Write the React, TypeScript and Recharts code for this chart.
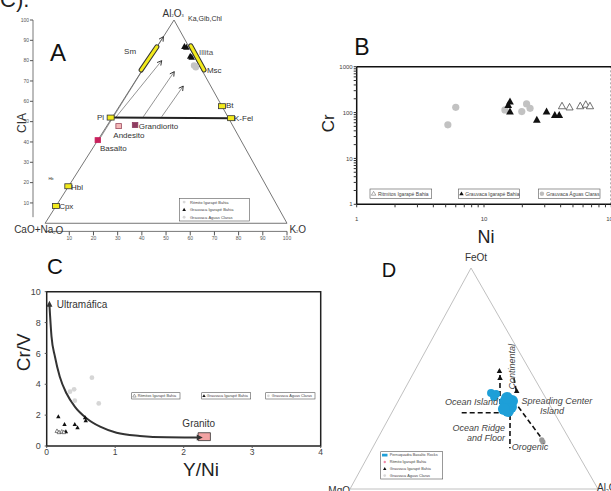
import React from 'react';
import { ComposedChart, Scatter, Line, XAxis, YAxis, ReferenceLine, ReferenceDot, ReferenceArea } from 'recharts';

const FONTE = '"Liberation Sans", Arial, Helvetica, sans-serif';

// ---------- A: diagrama A-CN-K (eixo inferior 0-100 x CIA) ----------
const verticesA = [{ x: 0, y: 0 }, { x: 53.3, y: 100 }, { x: 100, y: 0 }];
const ticksA = [10, 20, 30, 40, 50, 60, 70, 80, 90, 100];
const mineraisA = [
  { nome: 'Pl', x: 27.1, y: 52 },
  { nome: 'K-Fel', x: 76.9, y: 51.7 },
  { nome: 'Bt', x: 73.1, y: 57.6 },
  { nome: 'Hbl', x: 9.6, y: 18.2 },
  { nome: 'Cpx', x: 4.5, y: 8.5 },
];
const faixasA = [
  { nome: 'Sm', de: { x: 39.7, y: 75.4 }, ate: { x: 46.2, y: 86.8 } },
  { nome: 'Illita-Msc', de: { x: 60.2, y: 87.3 }, ate: { x: 65.7, y: 75.4 } },
];
const rochasA = [
  { nome: 'Basalto', x: 21.8, y: 40.9 },
  { nome: 'Andesito', x: 30.4, y: 47.8 },
  { nome: 'Grandiorito', x: 37.2, y: 48.3 },
];
const tendenciasA = [
  { de: { x: 22.7, y: 41.8 }, ate: { x: 48.9, y: 91.8 } },
  { de: { x: 29.3, y: 52.2 }, ate: { x: 48.2, y: 80.0 } },
  { de: { x: 40.6, y: 52.4 }, ate: { x: 53.4, y: 74.6 } },
  { de: { x: 48.2, y: 52.4 }, ate: { x: 57.1, y: 67.5 } },
];
const grauvacaIgarapeA = [
  { x: 57.6, y: 86.9 }, { x: 58.4, y: 86.6 }, { x: 60.0, y: 82.1 }, { x: 60.6, y: 81.6 },
];
const grauvacaAguasA = [{ x: 61.6, y: 77.6 }, { x: 62.3, y: 76.8 }];

// ---------- B: Cr x Ni (log-log) ----------
const ticksLogX = [1, 2, 3, 4, 5, 6, 7, 8, 9, 10, 20, 30, 40, 50, 60, 70, 80, 90, 100];
const ticksLogY = [1, 2, 3, 4, 5, 6, 7, 8, 9, 10, 20, 30, 40, 50, 60, 70, 80, 90, 100, 200, 300, 400, 500, 600, 700, 800, 900, 1000];
const decadas = [1, 10, 100, 1000];
const aguasClarasB = [
  { x: 5.2, y: 54 }, { x: 6.0, y: 130 }, { x: 14.6, y: 114 }, { x: 19.8, y: 105 }, { x: 21.6, y: 154 }, { x: 23, y: 124 },
];
const igarapeB = [
  { x: 16, y: 172 }, { x: 15.5, y: 145 }, { x: 16, y: 104 }, { x: 26, y: 69 }, { x: 31, y: 104 }, { x: 36, y: 88 }, { x: 39, y: 88 },
];
const ritmitosB = [
  { x: 41, y: 138 }, { x: 47, y: 130 }, { x: 57, y: 138 }, { x: 63, y: 149 }, { x: 68, y: 138 },
];

// ---------- C: Cr/V x Y/Ni ----------
const ticksCx = [0, 1, 2, 3, 4];
const ticksCy = [0, 2, 4, 6, 8, 10];
const curvaC = [
  { x: 0.04, y: 9.15 }, { x: 0.05, y: 8.4 }, { x: 0.07, y: 7.1 }, { x: 0.12, y: 5.8 }, { x: 0.19, y: 4.5 },
  { x: 0.29, y: 3.4 }, { x: 0.41, y: 2.55 }, { x: 0.58, y: 1.8 }, { x: 0.78, y: 1.25 }, { x: 1.02, y: 0.86 },
  { x: 1.36, y: 0.65 }, { x: 1.75, y: 0.56 }, { x: 2.22, y: 0.55 },
];
const granitoC = { x1: 2.21, x2: 2.39, y1: 0.35, y2: 0.86 };
const aguasClarasC = [
  { x: 0.34, y: 3.52 }, { x: 0.40, y: 3.67 }, { x: 0.41, y: 2.94 }, { x: 0.66, y: 4.43 }, { x: 0.76, y: 2.76 },
];
const igarapeC = [
  { x: 0.17, y: 1.9 }, { x: 0.26, y: 1.4 }, { x: 0.41, y: 1.4 }, { x: 0.45, y: 1.19 }, { x: 0.56, y: 1.84 }, { x: 0.57, y: 1.64 }, { x: 0.28, y: 0.93 },
];
const ritmitosC = [{ x: 0.15, y: 0.97 }, { x: 0.18, y: 0.89 }, { x: 0.22, y: 0.93 }, { x: 0.25, y: 0.89 }];

// ---------- D: FeOt - MgO - Al2O3, valores [FeOt, MgO, Al2O3] ----------
const APICE_D = 48.8;
const ternario = ([fe, mg, al]: number[]) => {
  const s = fe + mg + al;
  return { x: ((al + (fe * APICE_D) / 100) / s) * 100, y: (fe / s) * 100 };
};
const verticesD = [[0, 100, 0], [100, 0, 0], [0, 0, 100]];
const camposD = [
  [[34.5, 37.3, 28.2], [34.5, 20.5, 45.0]],
  [[51.6, 13.1, 35.3], [35.0, 21.6, 43.4]],
  [[33.5, 18.3, 48.2], [18.4, 26.1, 55.5]],
  [[37.2, 13.1, 49.7], [22.9, 11.0, 66.1]],
  [[50.2, 8.2, 41.6], [43.3, 10.6, 46.1]],
];
const basaltosD = [
  [39.4, 17.3, 43.3], [37.1, 16.1, 46.8], [35.3, 18.2, 46.5], [39.8, 14.3, 45.9], [36.2, 19.4, 44.4], [41.2, 15.6, 43.2],
];
const basaltosMenoresD = [[43.4, 20.9, 35.7], [43.0, 19.1, 37.9], [41.6, 20.6, 37.8]];
const igarapeD = [[53.4, 12.4, 34.2], [50.2, 13.8, 36.0], [44.3, 10.1, 45.6]];
const aguasClarasD = [[22.2, 11.3, 66.5], [21.3, 11.3, 67.4]];

// ---------- formas ----------
const tri = (h: number, fill: string, stroke = 'none', sw = 0) => (p: any) => (
  <path
    d={`M${p.cx},${p.cy - h * 0.6}L${p.cx + h * 0.55},${p.cy + h * 0.4}L${p.cx - h * 0.55},${p.cy + h * 0.4}Z`}
    fill={fill}
    stroke={stroke}
    strokeWidth={sw}
  />
);
const bola = (r: number, fill: string) => (p: any) => <circle cx={p.cx} cy={p.cy} r={r} fill={fill} />;
const caixa = (w: number, h: number, fill: string, stroke: string, sw = 0.8) => (p: any) => (
  <rect x={p.cx - w / 2} y={p.cy - h / 2} width={w} height={h} fill={fill} stroke={stroke} strokeWidth={sw} />
);
const corRocha: Record<string, string> = { Basalto: '#c8215c', Andesito: '#f4b9b9', Grandiorito: '#8e3c60' };

const Seta = (p: any) => {
  const { x1, y1, x2, y2 } = p;
  const a = Math.atan2(y2 - y1, x2 - x1);
  const L = 5;
  const h1 = `${x2 - L * Math.cos(a - 0.5)},${y2 - L * Math.sin(a - 0.5)}`;
  const h2 = `${x2 - L * Math.cos(a + 0.5)},${y2 - L * Math.sin(a + 0.5)}`;
  return (
    <g>
      <line x1={x1} y1={y1} x2={x2} y2={y2} stroke="#666" strokeWidth={0.7} />
      <path d={`M${h1}L${x2},${y2}L${h2}`} fill="none" stroke="#222" strokeWidth={0.9} />
    </g>
  );
};

const pontaSeta = (dir: 'cima' | 'direita') => (p: any) => {
  const { cx, cy } = p;
  const d = dir === 'cima'
    ? `M${cx},${cy - 4}L${cx + 3},${cy + 2}L${cx - 3},${cy + 2}Z`
    : `M${cx + 4},${cy}L${cx - 2},${cy - 3}L${cx - 2},${cy + 3}Z`;
  return <path d={d} fill="#333" />;
};

type Opc = { fs?: number; anchor?: string; cor?: string; italic?: boolean; rot?: number };
const nota = (k: string, x: number, y: number, conteudo: React.ReactNode, o: Opc = {}) => (
  <ReferenceDot
    key={k}
    x={x}
    y={y}
    ifOverflow="visible"
    shape={(p: any) => (
      <text
        x={p.cx}
        y={p.cy}
        fontSize={o.fs ?? 8}
        textAnchor={(o.anchor ?? 'start') as any}
        dominantBaseline="central"
        fill={o.cor ?? '#333'}
        fontStyle={o.italic ? 'italic' : 'normal'}
        fontFamily={FONTE}
        transform={o.rot ? `rotate(${o.rot} ${p.cx} ${p.cy})` : undefined}
      >
        {conteudo}
      </text>
    )}
  />
);

const sub = (t: string) => <tspan fontSize={4} dy={2}>{t}</tspan>;

const PainelA = () => (
  <ComposedChart width={330} height={250} margin={{ top: 20, right: 43, bottom: 3.6, left: 13 }}>
    <XAxis type="number" dataKey="x" domain={[-5, 100]} ticks={ticksA} interval={0} allowDataOverflow axisLine={false}
      height={15} tickSize={4} tickMargin={1} tick={{ fontSize: 5, fill: '#555', fontFamily: FONTE }} tickLine={{ stroke: '#555' }} />
    <YAxis type="number" dataKey="y" domain={[-4, 100]} ticks={ticksA} interval={0} allowDataOverflow axisLine={false}
      width={20} tickSize={3} tickMargin={1} tick={{ fontSize: 5, fill: '#555', fontFamily: FONTE }} tickLine={{ stroke: '#555' }} />
    <ReferenceLine segment={[{ x: 0, y: -4 }, { x: 100, y: -4 }]} stroke="#555" strokeWidth={0.8} ifOverflow="visible" />
    <ReferenceLine segment={[{ x: -5, y: 3 }, { x: -5, y: 100 }]} stroke="#555" strokeWidth={0.8} ifOverflow="visible" />
    {verticesA.map((v, i) => (
      <ReferenceLine key={`ta${i}`} segment={[v, verticesA[(i + 1) % 3]]} stroke="#666" strokeWidth={0.9} ifOverflow="visible" />
    ))}
    {tendenciasA.map((t, i) => (
      <ReferenceLine key={`sa${i}`} segment={[t.de, t.ate]} ifOverflow="visible" shape={Seta} />
    ))}
    <ReferenceLine segment={[mineraisA[0], mineraisA[1]]} stroke="#222" strokeWidth={2} ifOverflow="visible" />
    {faixasA.map((f) => (
      <ReferenceLine key={`fb${f.nome}`} segment={[f.de, f.ate]} stroke="#333" strokeWidth={5} strokeLinecap="round" ifOverflow="visible" />
    ))}
    {faixasA.map((f) => (
      <ReferenceLine key={`fy${f.nome}`} segment={[f.de, f.ate]} stroke="#f2ea1c" strokeWidth={3} strokeLinecap="round" ifOverflow="visible" />
    ))}
    <Scatter data={mineraisA} shape={caixa(7, 5, '#f2ea1c', '#333')} isAnimationActive={false} />
    {rochasA.map((r) => (
      <Scatter key={r.nome} data={[r]} shape={caixa(5.5, 5, corRocha[r.nome], r.nome === 'Andesito' ? '#9b4a5e' : corRocha[r.nome])} isAnimationActive={false} />
    ))}
    <Scatter data={grauvacaAguasA} shape={bola(3.3, '#c4c4c4')} isAnimationActive={false} />
    <Scatter data={grauvacaIgarapeA} shape={tri(6, '#111')} isAnimationActive={false} />
    {nota('al', 52.9, 103.4, <>Al{sub('2')}<tspan dy={-2}>O</tspan>{sub('3')}</>, { fs: 10, anchor: 'middle' })}
    {nota('ka', 59.1, 100.5, 'Ka,Gib,Chl', { fs: 7 })}
    {nota('sm', 37.6, 84.7, 'Sm', { anchor: 'end' })}
    {nota('il', 63.6, 83.9, 'Illita', { cor: '#555' })}
    {nota('ms', 66.9, 75.4, 'Msc')}
    {nota('bt', 74.8, 58.0, 'Bt')}
    {nota('kf', 78.1, 51.6, 'K-Fel')}
    {nota('pl', 24.4, 52.1, 'Pl', { anchor: 'end' })}
    {nota('gr', 38.7, 47.5, 'Grandiorito')}
    {nota('an', 28.2, 43.3, 'Andesito')}
    {nota('ba', 22.7, 36.7, 'Basalto')}
    {nota('hbl', 10.7, 17.5, 'Hbl')}
    {nota('cpx', 5.8, 8.2, 'Cpx')}
    {nota('hb', 1.4, 21.8, 'Hb', { fs: 4 })}
    {nota('cn', -12.8, -3.3, <>CaO+Na{sub('2')}<tspan dy={-2}>O</tspan></>, { fs: 10 })}
    {nota('k', 101, -3, <>K{sub('2')}<tspan dy={-2}>O</tspan></>, { fs: 10 })}
  </ComposedChart>
);

const rotuloLog = (v: number) => (decadas.includes(v) ? String(v) : '');
const eixoB = { stroke: '#111', strokeWidth: 1.5 };

const PainelB = () => (
  <ComposedChart width={307} height={250} margin={{ top: 65.7, right: 5.7, bottom: 25.7, left: 16.7 }}>
    <XAxis type="number" dataKey="x" scale="log" domain={[1, 100]} ticks={ticksLogX} interval={0} tickFormatter={rotuloLog}
      allowDataOverflow height={20} tickSize={3} tickMargin={9} axisLine={eixoB} tickLine={{ stroke: '#333' }}
      tick={{ fontSize: 6, fill: '#444', fontFamily: FONTE }} />
    <XAxis xAxisId="topo" orientation="top" type="number" scale="log" domain={[1, 100]} ticks={ticksLogX} interval={0}
      allowDataOverflow height={1} tickSize={3} tick={false} axisLine={eixoB} tickLine={{ stroke: '#333' }} />
    <YAxis type="number" dataKey="y" scale="log" domain={[1, 1000]} ticks={ticksLogY} interval={0} tickFormatter={rotuloLog}
      allowDataOverflow width={30} tickSize={3} tickMargin={1} axisLine={eixoB} tickLine={{ stroke: '#333' }}
      tick={{ fontSize: 6, fill: '#444', fontFamily: FONTE }} />
    <ReferenceLine x={99} stroke="#999" strokeDasharray="2 2" ifOverflow="visible" />
    <Scatter data={aguasClarasB} shape={bola(3.6, '#c2c2c2')} isAnimationActive={false} />
    <Scatter data={igarapeB} shape={tri(7, '#111')} isAnimationActive={false} />
    <Scatter data={ritmitosB} shape={tri(6.5, '#fff', '#333', 0.7)} isAnimationActive={false} />
  </ComposedChart>
);

const PainelC = () => (
  <ComposedChart width={331} height={241} margin={{ top: 41.7, right: 10.3, bottom: 25, left: 16.7 }}>
    <XAxis type="number" dataKey="x" domain={[0, 4]} ticks={ticksCx} interval={0} allowDataOverflow axisLine={false}
      height={20} tickSize={2} tickMargin={1} tickLine={{ stroke: '#555' }} tick={{ fontSize: 8.5, fill: '#444', fontFamily: FONTE }} />
    <YAxis type="number" dataKey="y" domain={[0, 10]} ticks={ticksCy} interval={0} allowDataOverflow axisLine={false}
      width={30} tickSize={2} tickMargin={4} tickLine={{ stroke: '#555' }} tick={{ fontSize: 9, fill: '#444', fontFamily: FONTE }} />
    <ReferenceArea x1={0} x2={4} y1={0} y2={10} fill="none" fillOpacity={0} stroke="#222" strokeWidth={1.5} ifOverflow="visible" />
    <ReferenceArea {...granitoC} fill="#f2a3a3" fillOpacity={1} stroke="#333" strokeWidth={0.8} />
    <Line data={curvaC} dataKey="y" type="monotone" stroke="#333" strokeWidth={2} dot={false} isAnimationActive={false} />
    <ReferenceDot x={curvaC[0].x} y={curvaC[0].y} ifOverflow="visible" shape={pontaSeta('cima')} />
    <ReferenceDot x={curvaC[curvaC.length - 1].x} y={curvaC[curvaC.length - 1].y} ifOverflow="visible" shape={pontaSeta('direita')} />
    <Scatter data={aguasClarasC} shape={bola(2.4, '#d6d6d6')} isAnimationActive={false} />
    <Scatter data={igarapeC} shape={tri(4, '#111')} isAnimationActive={false} />
    <Scatter data={ritmitosC} shape={tri(3.5, '#fff', '#333', 0.6)} isAnimationActive={false} />
    {nota('ul', 0.146, 9.14, 'Ultramáfica', { fs: 10 })}
    {nota('gr', 2.22, 1.47, 'Granito', { fs: 10, anchor: 'middle' })}
  </ComposedChart>
);

const PainelD = () => (
  <ComposedChart width={271} height={241} margin={{ top: 18, right: 13, bottom: 2, left: 10 }}>
    <XAxis type="number" dataKey="x" domain={[0, 100]} hide allowDataOverflow />
    <YAxis type="number" dataKey="y" domain={[0, 100]} hide allowDataOverflow />
    {verticesD.map((v, i) => (
      <ReferenceLine key={`td${i}`} segment={[ternario(v), ternario(verticesD[(i + 1) % 3])]} stroke="#b0b0b0" strokeWidth={0.8} ifOverflow="visible" />
    ))}
    {camposD.map((c, i) => (
      <ReferenceLine key={`cd${i}`} segment={[ternario(c[0]), ternario(c[1])]} stroke="#111" strokeWidth={1.6} strokeDasharray="5 3" ifOverflow="visible" />
    ))}
    <Scatter data={basaltosD.map(ternario)} shape={bola(6, '#1e9fd8')} isAnimationActive={false} />
    <Scatter data={basaltosMenoresD.map(ternario)} shape={bola(4, '#1e9fd8')} isAnimationActive={false} />
    <Scatter data={igarapeD.map(ternario)} shape={tri(5, '#111')} isAnimationActive={false} />
    <Scatter data={aguasClarasD.map(ternario)} shape={bola(2.6, '#9a9a9a')} isAnimationActive={false} />
    {nota('oi', 59.7, 39.5, 'Ocean Island', { fs: 9, anchor: 'end', italic: true, cor: '#444' })}
    {nota('sc', 69.2, 39.8, 'Spreading Center', { fs: 9, italic: true, cor: '#444' })}
    {nota('is', 76.6, 35.3, 'Island', { fs: 9, italic: true, cor: '#444' })}
    {nota('or', 62.5, 27.5, 'Ocean Ridge', { fs: 9, anchor: 'end', italic: true, cor: '#444' })}
    {nota('af', 62.5, 22.9, 'and Floor', { fs: 9, anchor: 'end', italic: true, cor: '#444' })}
    {nota('og', 65.2, 18.9, 'Orogenic', { fs: 9, italic: true, cor: '#444' })}
    {nota('co', 65.2, 55.3, 'Continental', { fs: 9, anchor: 'middle', italic: true, cor: '#444', rot: -90 })}
  </ComposedChart>
);

type Item = { rotulo: string; simbolo: 'tri' | 'triAberto' | 'bola' | 'bolaClara' | 'retAzul' | 'rosa' };
const Simbolo = ({ tipo, x, y, s }: { tipo: Item['simbolo']; x: number; y: number; s: number }) => {
  if (tipo === 'tri') return <path d={`M${x},${y - s}L${x + s},${y + s * 0.7}L${x - s},${y + s * 0.7}Z`} fill="#111" />;
  if (tipo === 'triAberto') return <path d={`M${x},${y - s}L${x + s},${y + s * 0.7}L${x - s},${y + s * 0.7}Z`} fill="#fff" stroke="#333" strokeWidth={0.4} />;
  if (tipo === 'bola') return <circle cx={x} cy={y} r={s} fill="#bdbdbd" />;
  if (tipo === 'bolaClara') return <circle cx={x} cy={y} r={s * 0.8} fill="#d8d8d8" />;
  if (tipo === 'rosa') return <circle cx={x} cy={y} r={s * 0.7} fill="#f08aa8" />;
  return <rect x={x - s * 1.6} y={y - s * 0.8} width={s * 3.2} height={s * 1.6} fill="#1e9fd8" />;
};

const Legenda = ({ x, y, w, h, itens, fs, dx }: { x: number; y: number; w: number; h: number; itens: Item[]; fs: number; dx: number }) => (
  <g>
    <rect x={x} y={y} width={w} height={h} fill="#fff" stroke="#555" strokeWidth={0.6} />
    {itens.map((it, i) => {
      const cy = y + (h / itens.length) * (i + 0.5);
      return (
        <g key={it.rotulo}>
          <Simbolo tipo={it.simbolo} x={x + dx * 0.45} y={cy} s={fs * 0.45} />
          <text x={x + dx} y={cy} fontSize={fs} dominantBaseline="central" fill="#444">{it.rotulo}</text>
        </g>
      );
    })}
  </g>
);

export default function App() {
  return (
    <div style={{ position: 'absolute', left: 0, top: 0, width: 611, height: 491, overflow: 'hidden', background: '#fff', fontFamily: FONTE }}>
      <div style={{ position: 'absolute', left: 0, top: 250 }}><PainelC /></div>
      <div style={{ position: 'absolute', left: 340, top: 250 }}><PainelD /></div>
      <div style={{ position: 'absolute', left: 310, top: 0 }}><PainelB /></div>
      <div style={{ position: 'absolute', left: 0, top: 0 }}><PainelA /></div>
      <svg width={611} height={491} style={{ position: 'absolute', left: 0, top: 0, pointerEvents: 'none' }} fontFamily={FONTE}>
        <text x={0} y={6.5} fontSize={22} fill="#222">C).</text>
        <text x={58} y={52} fontSize={24} textAnchor="middle" dominantBaseline="central" fill="#111">A</text>
        <text x={21.7} y={123} fontSize={12} textAnchor="middle" dominantBaseline="central" fill="#333" transform="rotate(-90 21.7 123)">CIA</text>
        <text x={362} y={47} fontSize={23} textAnchor="middle" dominantBaseline="central" fill="#111">B</text>
        <text x={328.3} y={123.3} fontSize={17} textAnchor="middle" dominantBaseline="central" fill="#222" transform="rotate(-90 328.3 123.3)">Cr</text>
        <text x={486} y={236.5} fontSize={18} textAnchor="middle" dominantBaseline="central" fill="#222">Ni</text>
        <text x={55} y={266} fontSize={22} textAnchor="middle" dominantBaseline="central" fill="#111">C</text>
        <text x={23.3} y={352.3} fontSize={19} textAnchor="middle" dominantBaseline="central" fill="#222" transform="rotate(-90 23.3 352.3)">Cr/V</text>
        <text x={201} y={469.5} fontSize={19} textAnchor="middle" dominantBaseline="central" fill="#222">Y/Ni</text>
        <text x={389} y={270} fontSize={20} textAnchor="middle" dominantBaseline="central" fill="#111">D</text>
        <text x={476} y={257.3} fontSize={10} textAnchor="middle" dominantBaseline="central" fill="#333">FeOt</text>
        <text x={350} y={494} fontSize={10} textAnchor="end" fill="#333">MgO</text>
        <text x={597} y={490.5} fontSize={10} fill="#333">Al<tspan fontSize={5} dy={2}>2</tspan><tspan dy={-2}>O</tspan><tspan fontSize={5} dy={2}>3</tspan></text>

        <Legenda x={179.3} y={198.3} w={70} h={22.7} fs={4} dx={10.7} itens={[
          { rotulo: 'Ritmito Igarapé Bahia', simbolo: 'bolaClara' },
          { rotulo: 'Grauvaca Igarapé Bahia', simbolo: 'tri' },
          { rotulo: 'Grauvaca Águas Claras', simbolo: 'bolaClara' },
        ]} />
        <Legenda x={370} y={189} w={61.7} h={9.3} fs={5} dx={8} itens={[{ rotulo: 'Ritmitos Igarapé Bahia', simbolo: 'triAberto' }]} />
        <Legenda x={458.3} y={189} w={61} h={9.3} fs={5} dx={7} itens={[{ rotulo: 'Grauvaca Igarapé Bahia', simbolo: 'tri' }]} />
        <Legenda x={538.3} y={189} w={61.7} h={9.3} fs={5} dx={8} itens={[{ rotulo: 'Grauvaca Águas Claras', simbolo: 'bola' }]} />
        <Legenda x={131.7} y={392.7} w={48.3} h={6.3} fs={3.8} dx={6} itens={[{ rotulo: 'Ritmitos Igarapé Bahia', simbolo: 'triAberto' }]} />
        <Legenda x={201.7} y={392.7} w={49} h={6.3} fs={3.8} dx={5} itens={[{ rotulo: 'Grauvaca Igarapé Bahia', simbolo: 'tri' }]} />
        <Legenda x={265.7} y={392.7} w={49.3} h={6.3} fs={3.8} dx={6} itens={[{ rotulo: 'Grauvaca Águas Claras', simbolo: 'bolaClara' }]} />
        <Legenda x={380.7} y={451.7} w={62} h={27.3} fs={3.8} dx={9} itens={[
          { rotulo: 'Pernuquadra Basaltic Rocks', simbolo: 'retAzul' },
          { rotulo: 'Ritmito Igarapé Bahia', simbolo: 'rosa' },
          { rotulo: 'Grauvaca Igarapé Bahia', simbolo: 'tri' },
          { rotulo: 'Grauvaca Águas Claras', simbolo: 'bolaClara' },
        ]} />
      </svg>
    </div>
  );
}
